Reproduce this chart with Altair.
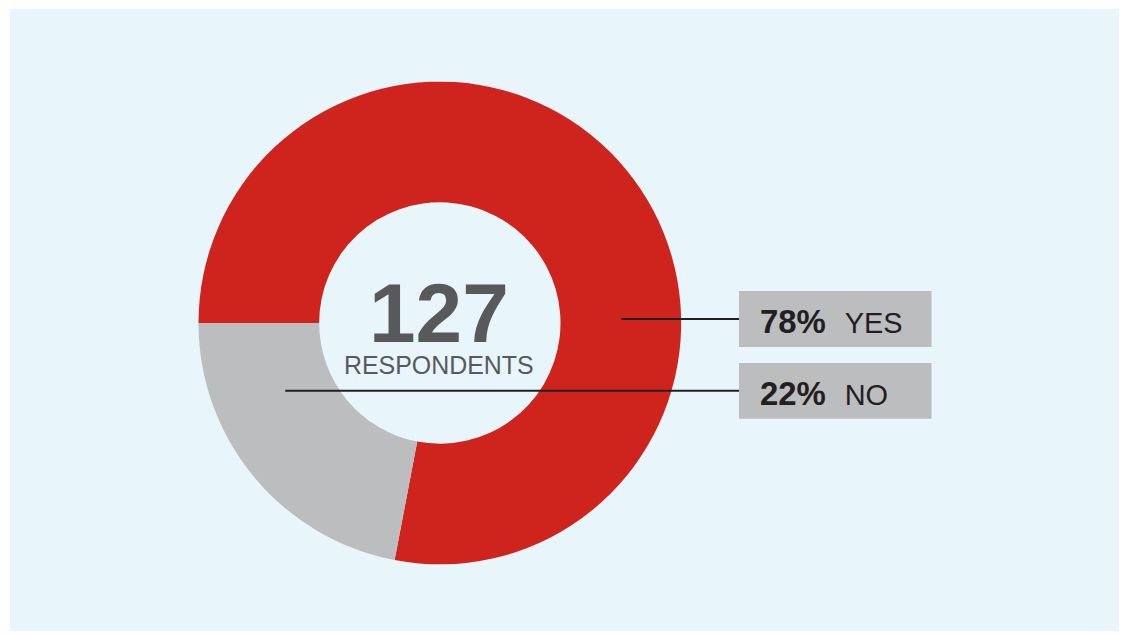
import math
import altair as alt
import pandas as pd

answers = ["YES", "NO"]
shares = [78, 22]
pct_labels = ["78%", "22%"]
respondents = 127
center_caption = "RESPONDENTS"

RED = "#CF241D"
GRAY = "#BCBDBF"
BG = "#E8F6FC"
DARK = "#231F20"
MID = "#58595B"

df = pd.DataFrame({"answer": answers, "value": shares, "pct": pct_labels})
center_df = pd.DataFrame({"num": [str(respondents)], "cap": [center_caption]})

cx, cy = 431, 315

ybands = alt.Scale(domain=answers, range=[283, 411], paddingInner=16 / 72, paddingOuter=0)

arc = alt.Chart(df).mark_arc(radius=242, radius2=121, strokeWidth=0).encode(
    theta=alt.Theta("value:Q", stack=True,
                    scale=alt.Scale(domain=[0, 100], range=[1.5 * math.pi, 3.5 * math.pi])),
    color=alt.Color("answer:N", scale=alt.Scale(domain=answers, range=[RED, GRAY]), legend=None),
    order=alt.Order("value:Q", sort="descending"),
    x=alt.value(cx),
    y=alt.value(cy),
)

boxes = alt.Chart(df).mark_rect(color=GRAY).encode(
    y=alt.Y("answer:N", scale=ybands, axis=None),
    x=alt.value(731),
    x2=alt.value(924),
)

line_yes = alt.Chart(df).transform_filter(alt.datum.answer == "YES").mark_rule(
    color=DARK, strokeWidth=2).encode(
    y=alt.Y("answer:N", scale=ybands, axis=None),
    x=alt.value(613),
    x2=alt.value(731),
)
line_no = alt.Chart(df).transform_filter(alt.datum.answer == "NO").mark_rule(
    color=DARK, strokeWidth=2).encode(
    y=alt.Y("answer:N", scale=ybands, axis=None),
    x=alt.value(276),
    x2=alt.value(731),
)

pct_text = alt.Chart(df).mark_text(
    font="Liberation Sans", fontWeight="bold", fontSize=33, color=DARK,
    align="left", baseline="alphabetic", dy=14).encode(
    y=alt.Y("answer:N", scale=ybands, axis=None),
    x=alt.value(752),
    text="pct:N",
)
ans_text = alt.Chart(df).mark_text(
    font="Liberation Sans", fontSize=29, color=DARK,
    align="left", baseline="alphabetic", dy=14).encode(
    y=alt.Y("answer:N", scale=ybands, axis=None),
    x=alt.value(837),
    text="answer:N",
)

num_text = alt.Chart(center_df).mark_text(
    font="Liberation Sans", fontWeight="bold", fontSize=84, color=MID,
    align="center", baseline="alphabetic").encode(
    x=alt.value(430), y=alt.value(334), text="num:N")
cap_text = alt.Chart(center_df).mark_text(
    font="Liberation Sans", fontSize=25, color=MID,
    align="center", baseline="alphabetic").encode(
    x=alt.value(430), y=alt.value(366), text="cap:N")

chart = alt.layer(arc, line_no, boxes, line_yes, pct_text, ans_text, num_text, cap_text).properties(
    width=1112, height=624,
    padding={"left": 2, "top": 0, "right": 0, "bottom": 0},
    autosize=alt.AutoSizeParams(type="none"),
    background="white",
).configure_view(fill=BG, stroke=None)

chart.save("out.html", embed_options={"renderer": "svg", "actions": False})
